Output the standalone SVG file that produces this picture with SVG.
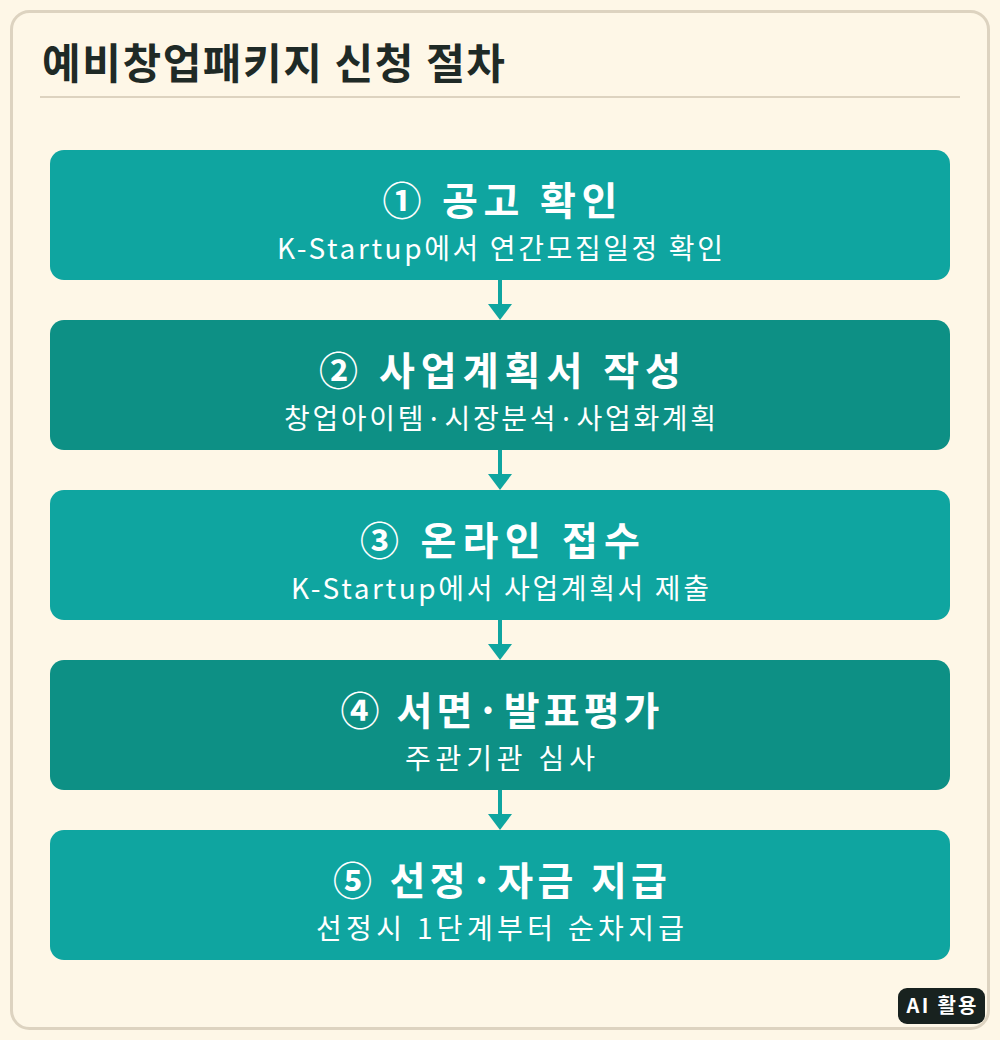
<svg xmlns="http://www.w3.org/2000/svg" width="1000" height="1040" viewBox="0 0 1000 1040">
<defs>
<style>
.card{fill:#fef7e7;stroke:#ddd3c0;stroke-width:3}
.step{fill:#0fa5a0}
.step.dark{fill:#0d9085}
.t{font-family:"Noto Sans CJK KR","Noto Sans",sans-serif;font-weight:700;font-size:39px;fill:#ffffff;text-anchor:middle}
.s{font-family:"Noto Sans CJK KR","Noto Sans",sans-serif;font-weight:400;font-size:28px;fill:#ffffff;text-anchor:middle}
.conn{stroke:#0fa5a0;stroke-width:4;fill:none}
</style>
</defs>
<rect x="0" y="0" width="1000" height="1040" fill="#fef7e7"/>
<rect class="card" x="11.5" y="11.5" width="977" height="1017" rx="18"/>
<text x="42" y="79" font-family="'Noto Sans CJK KR','Noto Sans',sans-serif" font-weight="700" font-size="42" fill="#1f2a26" textLength="463" lengthAdjust="spacing">예비창업패키지 신청 절차</text>
<line x1="40" y1="97" x2="960" y2="97" stroke="#ddd3c0" stroke-width="2"/>
<g id="connectors">
<line class="conn" x1="500" y1="280" x2="500" y2="306"/>
<path d="M488 304 L512 304 L500 320 Z" fill="#0fa5a0"/>
<line class="conn" x1="500" y1="450" x2="500" y2="476"/>
<path d="M488 474 L512 474 L500 490 Z" fill="#0fa5a0"/>
<line class="conn" x1="500" y1="620" x2="500" y2="646"/>
<path d="M488 644 L512 644 L500 660 Z" fill="#0fa5a0"/>
<line class="conn" x1="500" y1="790" x2="500" y2="816"/>
<path d="M488 814 L512 814 L500 830 Z" fill="#0fa5a0"/>
</g>
<g id="step1">
<rect class="step" x="50" y="150" width="900" height="130" rx="14"/>
<text class="t" x="500" y="215" textLength="235" lengthAdjust="spacing">① 공고 확인</text>
<text class="s" x="500" y="259" textLength="446" lengthAdjust="spacing">K-Startup에서 연간모집일정 확인</text>
</g>
<g id="step2">
<rect class="step dark" x="50" y="320" width="900" height="130" rx="14"/>
<text class="t" x="500" y="385" textLength="362" lengthAdjust="spacing">② 사업계획서 작성</text>
<text class="s" x="500" y="429" textLength="432" lengthAdjust="spacing">창업아이템·시장분석·사업화계획</text>
</g>
<g id="step3">
<rect class="step" x="50" y="490" width="900" height="130" rx="14"/>
<text class="t" x="500" y="555" textLength="280" lengthAdjust="spacing">③ 온라인 접수</text>
<text class="s" x="500" y="599" textLength="418" lengthAdjust="spacing">K-Startup에서 사업계획서 제출</text>
</g>
<g id="step4">
<rect class="step dark" x="50" y="660" width="900" height="130" rx="14"/>
<text class="t" x="500" y="725" textLength="319" lengthAdjust="spacing">④ 서면·발표평가</text>
<text class="s" x="500" y="769" textLength="190" lengthAdjust="spacing">주관기관 심사</text>
</g>
<g id="step5">
<rect class="step" x="50" y="830" width="900" height="130" rx="14"/>
<text class="t" x="500" y="895" textLength="334" lengthAdjust="spacing">⑤ 선정·자금 지급</text>
<text class="s" x="500" y="939" textLength="368" lengthAdjust="spacing">선정시 1단계부터 순차지급</text>
</g>
<g id="badge">
<rect x="898" y="988" width="87" height="36" rx="9" fill="#18221f"/>
<text x="941.5" y="1013" font-family="'Noto Sans CJK KR','Noto Sans',sans-serif" font-weight="700" font-size="20" fill="#ffffff" text-anchor="middle" textLength="70" lengthAdjust="spacing">AI 활용</text>
</g>
</svg>
